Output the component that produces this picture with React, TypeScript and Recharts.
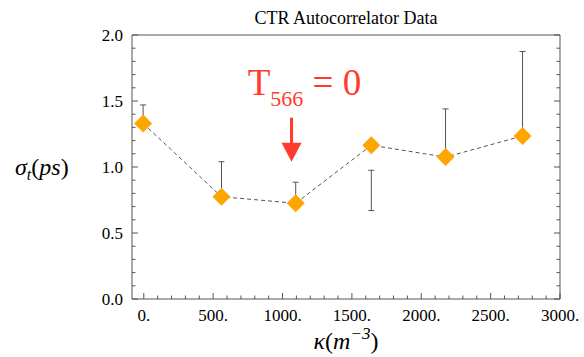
import React from 'react'
import { ScatterChart, Scatter, XAxis, YAxis, ErrorBar, ReferenceDot } from 'recharts'

// measured points (kappa in m^-3, sigma in ps)
const kappa = [-5, 560, 1095, 1640, 2175, 2730]
const sigma = [1.33, 0.775, 0.725, 1.165, 1.075, 1.235]
// error bar ends as drawn in the figure
const errLow = [1.33, 0.775, 0.725, 0.67, 1.075, 1.235]
const errHigh = [1.47, 1.04, 0.885, 0.975, 1.44, 1.875]

const xMajor = [0, 500, 1000, 1500, 2000, 2500, 3000]
const yMajor = [0, 0.5, 1, 1.5, 2]
const xTicks = Array.from({ length: 31 }, (_, i) => i * 100)
const yTicks = Array.from({ length: 21 }, (_, i) => i / 10)

const annotation = { x: 749, y: 1.545, text: 'T', sub: '566', rest: ' = 0' }
const arrowTip = { x: 1065, y: 1.04 }

const points = kappa.map((k, i) => ({
	kappa: k,
	sigma: sigma[i],
	err: [sigma[i] - errLow[i], errHigh[i] - sigma[i]],
}))

const frame = '#555'
const red = '#FF3B2B'
const serif = '"Liberation Serif", "DejaVu Serif", serif'

const isYMajor = (v: number) => yMajor.some((m) => Math.abs(m - v) < 1e-9)

const BottomTick = ({ x, y, payload }: any) => {
	const major = xMajor.includes(payload.value)
	return (
		<g>
			<line x1={x} x2={x} y1={y} y2={y - (major ? 6 : 3.5)} stroke={frame} />
			{major && (
				<text x={x} y={y + 22} textAnchor="middle" fontFamily={serif} fontSize={17} fill="#000">
					{payload.value}.
				</text>
			)}
		</g>
	)
}

const TopTick = ({ x, y, payload }: any) => {
	const major = xMajor.includes(payload.value)
	return <line x1={x} x2={x} y1={y} y2={y + (major ? 6 : 3.5)} stroke={frame} />
}

const LeftTick = ({ x, y, payload }: any) => {
	const major = isYMajor(payload.value)
	return (
		<g>
			<line x1={x} x2={x + (major ? 6 : 3.5)} y1={y} y2={y} stroke={frame} />
			{major && (
				<text x={x - 9} y={y + 6} textAnchor="end" fontFamily={serif} fontSize={17} fill="#000">
					{payload.value.toFixed(1)}
				</text>
			)}
		</g>
	)
}

const RightTick = ({ x, y, payload }: any) => {
	const major = isYMajor(payload.value)
	return <line x1={x} x2={x - (major ? 6 : 3.5)} y1={y} y2={y} stroke={frame} />
}

const Diamond = ({ cx, cy }: any) => (
	<polygon
		points={`${cx},${cy - 9} ${cx + 9},${cy} ${cx},${cy + 9} ${cx - 9},${cy}`}
		fill="#FFA500"
	/>
)

const Arrow = ({ cx, cy }: any) => (
	<g fill={red}>
		<rect x={cx - 1.5} y={cy - 44} width={3} height={26} />
		<polygon points={`${cx - 10},${cy - 19} ${cx + 10},${cy - 19} ${cx},${cy}`} />
	</g>
)

const AnnotationText = ({ cx, cy }: any) => (
	<text x={cx} y={cy} fill={red} fontFamily={serif} fontSize={37}>
		{annotation.text}
		<tspan fontSize={22} dy={11}>
			{annotation.sub}
		</tspan>
		<tspan dy={-11}>{annotation.rest}</tspan>
	</text>
)

const App = () => {
	return (
		<div style={{ position: 'absolute', left: 0, top: 0 }}>
			<ScatterChart width={584} height={357} margin={{ top: 0, right: 0, left: 12, bottom: 18 }}>
				<XAxis
					xAxisId="bottom"
					type="number"
					dataKey="kappa"
					domain={[-85, 3000]}
					allowDataOverflow
					ticks={xTicks}
					interval={0}
					tick={BottomTick}
					tickLine={false}
					tickSize={0}
					tickMargin={0}
					height={40}
					axisLine={{ stroke: frame }}
					label={{
						content: ({ viewBox }: any) => (
							<text
								x={viewBox.x + viewBox.width / 2}
								y={viewBox.y + 50}
								textAnchor="middle"
								fontFamily={serif}
								fontSize={24}
								fill="#000"
							>
								<tspan fontStyle="italic">κ</tspan>(<tspan fontStyle="italic">m</tspan>
								<tspan fontSize={17} dy={-10} fontStyle="italic">
									−3
								</tspan>
								<tspan dy={10}>)</tspan>
							</text>
						),
					}}
				/>
				<XAxis
					xAxisId="top"
					orientation="top"
					type="number"
					domain={[-85, 3000]}
					allowDataOverflow
					ticks={xTicks}
					interval={0}
					tick={TopTick}
					tickLine={false}
					tickSize={0}
					tickMargin={0}
					height={35}
					axisLine={{ stroke: frame }}
					label={{
						content: ({ viewBox }: any) => (
							<text
								x={viewBox.x + viewBox.width / 2}
								y={viewBox.y + 24}
								textAnchor="middle"
								fontFamily={serif}
								fontSize={18}
								fill="#000"
							>
								CTR Autocorrelator Data
							</text>
						),
					}}
				/>
				<YAxis
					yAxisId="left"
					type="number"
					dataKey="sigma"
					domain={[0, 2]}
					allowDataOverflow
					ticks={yTicks}
					interval={0}
					tick={LeftTick}
					tickLine={false}
					tickSize={0}
					tickMargin={0}
					width={120}
					axisLine={{ stroke: frame }}
					label={{
						content: ({ viewBox }: any) => (
							<text
								x={viewBox.x + 3}
								y={viewBox.y + viewBox.height / 2 + 8}
								fontFamily={serif}
								fontSize={24}
								fill="#000"
							>
								<tspan fontStyle="italic">σ</tspan>
								<tspan fontSize={16} dy={5} fontStyle="italic">
									t
								</tspan>
								<tspan dy={-5}>(</tspan>
								<tspan fontStyle="italic">ps</tspan>)
							</text>
						),
					}}
				/>
				<YAxis
					yAxisId="right"
					orientation="right"
					type="number"
					domain={[0, 2]}
					allowDataOverflow
					ticks={yTicks}
					interval={0}
					tick={RightTick}
					tickLine={false}
					tickSize={0}
					tickMargin={0}
					width={24}
					axisLine={{ stroke: frame }}
				/>
				<Scatter
					xAxisId="bottom"
					yAxisId="left"
					data={points}
					dataKey="sigma"
					shape={() => <g />}
					isAnimationActive={false}
				>
					<ErrorBar dataKey="err" direction="y" width={3} stroke={frame} strokeWidth={1} />
				</Scatter>
				<Scatter
					xAxisId="bottom"
					yAxisId="left"
					data={points}
					dataKey="sigma"
					shape={Diamond}
					line={{ stroke: frame, strokeWidth: 1, strokeDasharray: '4 3' }}
					lineType="joint"
					isAnimationActive={false}
				/>
				<ReferenceDot
					xAxisId="bottom"
					yAxisId="left"
					x={arrowTip.x}
					y={arrowTip.y}
					shape={Arrow}
				/>
				<ReferenceDot
					xAxisId="bottom"
					yAxisId="left"
					x={annotation.x}
					y={annotation.y}
					shape={AnnotationText}
				/>
			</ScatterChart>
		</div>
	)
}

export default App
